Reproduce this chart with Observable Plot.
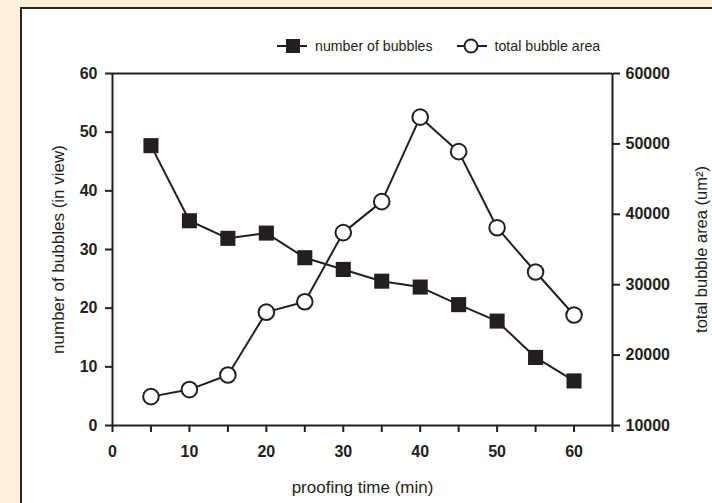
<!DOCTYPE html>
<html>
<head>
<meta charset="utf-8">
<script src="https://cdn.jsdelivr.net/npm/d3@7"></script>
<script src="https://cdn.jsdelivr.net/npm/@observablehq/plot@0.6"></script>
<style>
  html, body { margin: 0; padding: 0; }
  body { width: 712px; height: 503px; background: #fdf0d8; position: relative; overflow: hidden; font-family: "Liberation Sans", Arial, sans-serif; }
  #panel { position: absolute; left: 20px; top: 7px; width: 720px; height: 520px; background: #fff; border: 2.5px solid #262626; box-sizing: border-box; }
  #chart { position: absolute; left: 0; top: 0; }
  #legend { position: absolute; top: 37px; left: 277px; height: 18px; display: flex; align-items: center; font-size: 14.2px; color: #231f20; }
  #legend .item { display: flex; align-items: center; }
  #legend svg { margin-right: 8px; }
</style>
</head>
<body>
<div id="panel"></div>
<div id="chart"></div>
<div id="legend"></div>
<script>
const times = [5, 10, 15, 20, 25, 30, 35, 40, 45, 50, 55, 60];
const bubbleCount = [47.7, 34.9, 31.9, 32.8, 28.6, 26.6, 24.6, 23.6, 20.6, 17.8, 11.6, 7.6];
const bubbleArea = [14100, 15100, 17170, 26100, 27570, 37400, 41800, 53800, 48900, 38100, 31800, 25700];
const xTicks = [0, 5, 10, 15, 20, 25, 30, 35, 40, 45, 50, 55, 60, 65];
const leftTicks = [0, 10, 20, 30, 40, 50, 60];
const rightTicks = [10000, 20000, 30000, 40000, 50000, 60000];
const areaMin = 10000, areaMax = 60000, countMax = 60;

const toLeft = a => (a - areaMin) / (areaMax - areaMin) * countMax;
const toArea = v => String(Math.round(v / countMax * (areaMax - areaMin) + areaMin));

const countData = times.map((t, i) => ({t, v: bubbleCount[i]}));
const areaData = times.map((t, i) => ({t, v: toLeft(bubbleArea[i])}));

const ink = "#231f20";

const chart = Plot.plot({
  width: 712,
  height: 503,
  marginLeft: 112,
  marginRight: 100,
  marginTop: 73,
  marginBottom: 78,
  style: {background: "transparent", fontFamily: "'Liberation Sans', Arial, sans-serif", color: ink},
  x: {domain: [0, 65]},
  y: {domain: [0, 60]},
  marks: [
    Plot.axisX({ticks: xTicks, tickSize: 7, tickPadding: 13, stroke: ink, strokeWidth: 2,
      tickFormat: d => (d % 10 === 0 && d <= 60) ? String(d) : "", fontSize: 16, fontWeight: "bold", label: null}),
    Plot.axisY({ticks: leftTicks, tickSize: 7, tickPadding: 8, stroke: ink, strokeWidth: 2,
      tickFormat: d => String(d), fontSize: 16, fontWeight: "bold", label: null}),
    Plot.axisY({anchor: "right", ticks: rightTicks.map(toLeft), tickSize: 7, tickPadding: 6, stroke: ink, strokeWidth: 2,
      tickFormat: toArea, fontSize: 16, fontWeight: "bold", label: null}),
    Plot.ruleY([0, 60], {stroke: ink, strokeWidth: 2}),
    Plot.ruleX([0, 65], {stroke: ink, strokeWidth: 2}),
    Plot.line(countData, {x: "t", y: "v", stroke: ink, strokeWidth: 2}),
    Plot.line(areaData, {x: "t", y: "v", stroke: ink, strokeWidth: 2}),
    Plot.dot(countData, {x: "t", y: "v", symbol: "square", r: 8.5, fill: ink, stroke: "none"}),
    Plot.dot(areaData, {x: "t", y: "v", symbol: "circle", r: 7.8, fill: "#fff", stroke: ink, strokeWidth: 2}),
    Plot.text(["proofing time (min)"], {frameAnchor: "bottom", dy: 62, fontSize: 17, fill: ink, lineAnchor: "middle", textAnchor: "middle"}),
    Plot.text(["number of bubbles (in view)"], {frameAnchor: "left", dx: -54, rotate: -90, fontSize: 17, fill: ink, lineAnchor: "middle", textAnchor: "middle"}),
    Plot.text(["total bubble area (um²)"], {frameAnchor: "right", dx: 89, rotate: -90, fontSize: 16.5, fill: ink, lineAnchor: "middle", textAnchor: "middle"})
  ]
});
document.getElementById("chart").appendChild(chart);

// legend
const legendItems = [
  {label: "number of bubbles", symbol: "square"},
  {label: "total bubble area", symbol: "circle"}
];
const legend = d3.select("#legend");
legendItems.forEach((it, i) => {
  const item = legend.append("div").attr("class", "item").style("margin-right", i === 0 ? "24px" : "0");
  const svg = item.append("svg").attr("width", 30).attr("height", 18);
  svg.append("line").attr("x1", 0).attr("x2", 30).attr("y1", 9).attr("y2", 9).attr("stroke", ink).attr("stroke-width", 2);
  if (it.symbol === "square") {
    svg.append("rect").attr("x", 9).attr("y", 2).attr("width", 14).attr("height", 14).attr("fill", ink);
  } else {
    svg.append("circle").attr("cx", 14).attr("cy", 9).attr("r", 6.5).attr("fill", "#fff").attr("stroke", ink).attr("stroke-width", 2);
  }
  item.append("span").text(it.label);
});
</script>
</body>
</html>
